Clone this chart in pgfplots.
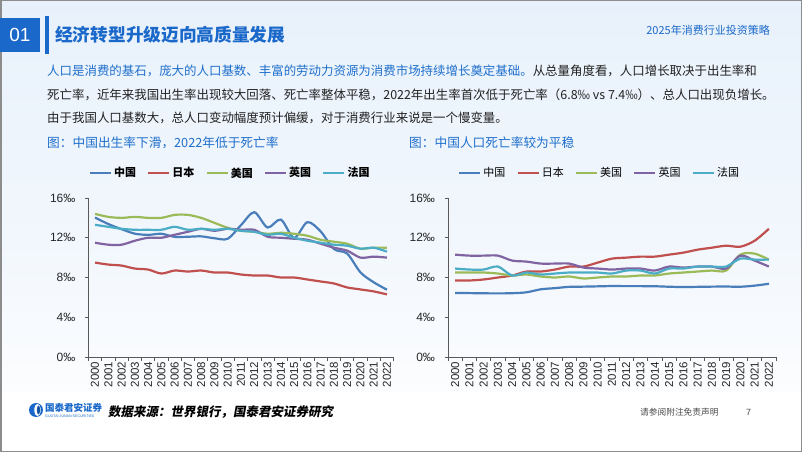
\documentclass[border=0pt]{standalone}
\usepackage{fontspec}
\usepackage{pgfplots}
\usepackage{pgfplotstable}
\pgfplotsset{compat=1.18}
\setmainfont{Noto Sans CJK SC}
\newfontfamily\lib{Liberation Sans}
\newfontfamily\slantcjk[FakeSlant=0.18]{Noto Sans CJK SC}
\definecolor{cn}{HTML}{4A7EBB}
\definecolor{jp}{HTML}{C0504D}
\definecolor{us}{HTML}{9BBB59}
\definecolor{uk}{HTML}{8064A2}
\definecolor{fr}{HTML}{4BACC6}
\definecolor{hblue}{HTML}{1A68C9}
\definecolor{tblue}{HTML}{1F6FCC}
\definecolor{txt}{HTML}{222222}
\definecolor{bgtop}{HTML}{E8F1FB}

\pgfplotstableread{
i CN JP US UK FR
0 14.03 9.5 14.4 11.5 13.3
1 13.38 9.3 14.1 11.3 13.1
2 12.86 9.2 14.0 11.3 12.9
3 12.41 8.9 14.1 11.7 12.8
4 12.29 8.8 14.0 12.0 12.8
5 12.40 8.4 14.0 12.0 12.8
6 12.09 8.7 14.3 12.3 13.1
7 12.10 8.6 14.3 12.6 12.8
8 12.14 8.7 14.0 12.9 12.9
9 11.95 8.5 13.5 12.7 12.8
10 11.90 8.5 13.0 12.9 12.9
11 13.27 8.3 12.7 12.8 12.7
12 14.57 8.2 12.6 12.8 12.6
13 13.03 8.2 12.4 12.1 12.3
14 13.83 8.0 12.5 12.0 12.4
15 11.99 8.0 12.4 11.9 12.0
16 13.57 7.8 12.2 11.8 11.7
17 12.64 7.6 11.8 11.4 11.5
18 10.86 7.4 11.6 11.0 11.3
19 10.41 7.0 11.4 10.7 11.2
20 8.52 6.8 10.9 10.0 10.9
21 7.52 6.6 11.0 10.1 11.0
22 6.77 6.3 11.0 10.0 10.6
}\birth

\pgfplotstableread{
i CN JP US UK FR
0 6.45 7.7 8.5 10.3 8.9
1 6.43 7.7 8.5 10.2 8.8
2 6.41 7.8 8.5 10.2 8.8
3 6.40 8.0 8.4 10.2 9.1
4 6.42 8.2 8.2 9.7 8.2
5 6.51 8.6 8.3 9.6 8.5
6 6.81 8.6 8.1 9.4 8.3
7 6.93 8.8 8.0 9.4 8.4
8 7.06 9.1 8.1 9.4 8.5
9 7.08 9.1 7.9 9.0 8.5
10 7.11 9.5 8.0 8.9 8.5
11 7.14 9.9 8.1 8.8 8.4
12 7.13 10.0 8.1 8.9 8.7
13 7.13 10.1 8.2 8.9 8.7
14 7.12 10.1 8.2 8.7 8.4
15 7.07 10.3 8.4 9.1 8.9
16 7.04 10.5 8.5 9.0 8.9
17 7.06 10.8 8.6 9.1 9.1
18 7.08 11.0 8.7 9.1 9.1
19 7.09 11.2 8.7 8.9 9.1
20 7.07 11.1 10.3 10.2 9.9
21 7.18 11.7 10.4 9.7 9.8
22 7.37 12.9 9.8 9.1 9.8
}\death

\pgfplotsset{
  ratechart/.style={
    scale only axis,
    anchor=south west,
    height=159pt,
    xmin=-0.5, xmax=22.5, ymin=0, ymax=16,
    axis x line*=bottom, axis y line*=left,
    axis line style={black!65, line width=0.8pt},
    tick style={black!65, line width=0.8pt},
    tick align=outside, major tick length=3.5pt,
    xtick={-0.5,0.5,...,22.5},
    x tick label as interval,
    xticklabels={2000,2001,2002,2003,2004,2005,2006,2007,2008,2009,2010,2011,2012,2013,2014,2015,2016,2017,2018,2019,2020,2021,2022},
    xticklabel style={rotate=90, anchor=east, font=\lib\fontsize{11.5}{12}\selectfont, text=black!85, inner sep=1pt},
    ytick={0,4,8,12,16},
    yticklabels={0‰,4‰,8‰,12‰,16‰},
    yticklabel style={font=\lib\fontsize{12}{12}\selectfont, text=black!85, xshift=-6pt},
    legend columns=5,
    legend image code/.code={\draw[##1, line width=2.4pt] (0pt,0pt) -- (21pt,0pt);},
    every axis plot/.append style={line width=2.2pt, smooth, tension=0.5, no markers},
  }
}

\begin{document}
\begin{tikzpicture}[x=1pt,y=1pt]
\useasboundingbox (0,0) rectangle (802,452);
\shade[top color=bgtop, bottom color=white, middle color=bgtop!60] (0,0) rectangle (802,452);
\fill[white] (0,0) rectangle (802,60);
\draw[black!45, line width=1.5pt] (0.75,0.75) rectangle (801.25,451.25);

% header
\fill[hblue] (0,400) rectangle (40,434);
\node[text=white, font=\lib\fontsize{19}{19}\selectfont] at (20,417) {01};
\fill[hblue] (44.5,398) rectangle (48.5,436);
\node[anchor=west, text=hblue, font=\bfseries\fontsize{17.7}{18}\selectfont, inner sep=0] at (55,417) {经济转型升级迈向高质量发展};
\node[anchor=east, text=hblue, font=\fontsize{11}{11}\selectfont, inner sep=0] at (770,422) {2025年消费行业投资策略};

% paragraph
\node[anchor=west, inner sep=0, font=\fontsize{12.45}{13}\selectfont] at (47,381) {\textcolor{tblue}{人口是消费的基石，庞大的人口基数、丰富的劳动力资源为消费市场持续增长奠定基础。}\textcolor{txt}{从总量角度看，人口增长取决于出生率和}};
\node[anchor=west, inner sep=0, font=\fontsize{12.45}{13}\selectfont, text=txt] at (47,357) {死亡率，近年来我国出生率出现较大回落、死亡率整体平稳，2022年出生率首次低于死亡率（6.8‰ vs 7.4‰）、总人口出现负增长。};
\node[anchor=west, inner sep=0, font=\fontsize{12.45}{13}\selectfont, text=txt] at (47,334) {由于我国人口基数大，总人口变动幅度预计偏缓，对于消费行业来说是一个慢变量。};

% chart titles
\node[anchor=west, inner sep=0, text=tblue, font=\fontsize{12.7}{13}\selectfont] at (47,309) {图：中国出生率下滑，2022年低于死亡率};
\node[anchor=west, inner sep=0, text=tblue, font=\fontsize{12.7}{13}\selectfont] at (409,309) {图：中国人口死亡率较为平稳};

% left chart
\begin{axis}[ratechart, at={(88.4pt,95pt)}, width=305.2pt,
  legend style={at={(axis description cs:0.0,1.157)}, anchor=west, draw=none, fill=none,
    font=\bfseries\fontsize{11}{11}\selectfont, inner sep=0pt,
    /tikz/every even column/.append style={column sep=9pt}}]
\addplot[cn] table[x=i,y=CN]{\birth}; \addlegendentry{中国}
\addplot[jp] table[x=i,y=JP]{\birth}; \addlegendentry{日本}
\addplot[us] table[x=i,y=US]{\birth}; \addlegendentry{美国}
\addplot[uk] table[x=i,y=UK]{\birth}; \addlegendentry{英国}
\addplot[fr] table[x=i,y=FR]{\birth}; \addlegendentry{法国}
\end{axis}

% right chart
\begin{axis}[ratechart, at={(448pt,95pt)}, width=328pt,
  legend style={at={(axis description cs:0.03,1.157)}, anchor=west, draw=none, fill=none,
    font=\fontsize{11}{11}\selectfont, inner sep=0pt,
    /tikz/every even column/.append style={column sep=9pt}}]
\addplot[cn] table[x=i,y=CN]{\death}; \addlegendentry{中国}
\addplot[jp] table[x=i,y=JP]{\death}; \addlegendentry{日本}
\addplot[us] table[x=i,y=US]{\death}; \addlegendentry{美国}
\addplot[uk] table[x=i,y=UK]{\death}; \addlegendentry{英国}
\addplot[fr] table[x=i,y=FR]{\death}; \addlegendentry{法国}
\end{axis}

% footer
\fill[hblue] (36,42) circle (7);
\fill[white] (37.5,42) ellipse (3.2 and 6.2);
\fill[hblue!80!black] (38.5,42) ellipse (1.6 and 4.5);
\node[anchor=west, inner sep=0, text=hblue, font=\bfseries\fontsize{9.5}{10}\selectfont] at (45,44) {国泰君安证券};
\node[anchor=west, inner sep=0, text=hblue, font=\lib\fontsize{3.6}{4}\selectfont] at (45,35.5) {GUOTAI JUNAN SECURITIES};
\node[anchor=west, inner sep=0, text=black, font=\slantcjk\bfseries\fontsize{12.5}{13}\selectfont] at (108,40) {数据来源：世界银行，国泰君安证券研究};
\node[anchor=west, inner sep=0, text=black!70, font=\fontsize{8.7}{9}\selectfont] at (640,40) {请参阅附注免责声明};
\node[anchor=west, inner sep=0, text=black!70, font=\lib\fontsize{9}{9}\selectfont] at (746,40) {7};
\end{tikzpicture}
\end{document}
